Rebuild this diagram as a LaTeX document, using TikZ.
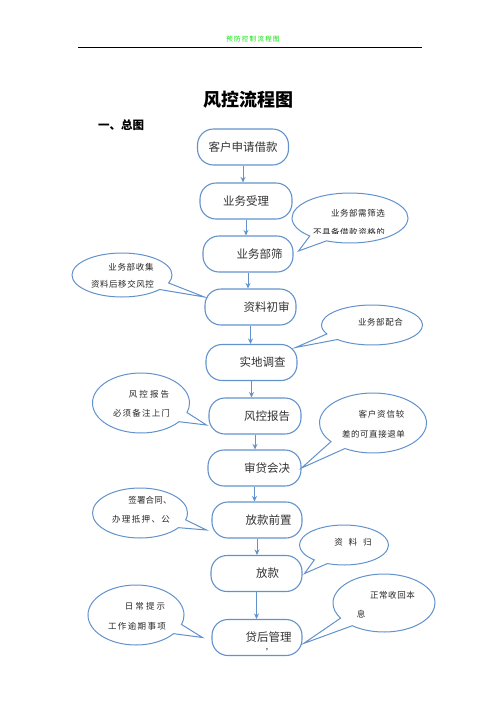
\documentclass[tikz,border=0pt]{standalone}
\usepackage{fontspec}
\newfontfamily\cjk{Noto Sans CJK SC}
\usetikzlibrary{calc,positioning,arrows.meta,shapes.callouts}
\definecolor{flowblue}{RGB}{98,146,204}
\definecolor{headgreen}{RGB}{0,225,0}
\tikzset{
  flow box/.style={
    draw=flowblue,
    line width=1.1pt,
    rounded corners=16pt,
    minimum width=91pt,
    minimum height=36pt,
    fill=white
  },
  flow label/.style={text=black!80, inner sep=0pt, font=\cjk\fontsize{11.5}{13}\selectfont},
  flow arrow/.style={draw=flowblue, line width=1pt, -{Stealth[length=5.5pt,width=5pt]}},
  note/.style={
    ellipse callout,
    draw=flowblue,
    line width=1pt,
    fill=white,
    inner sep=0pt,
    callout pointer arc=20
  },
  note label/.style={text=black!85, inner sep=0pt,
    font=\cjk\fontsize{8.5}{10}\selectfont\addfontfeature{LetterSpace=#1}},
  note label/.default=6
}

\begin{document}
\begin{tikzpicture}[x=1pt,y=-1pt]
  \useasboundingbox (0,0) rectangle (496,702);

  \node (page_head) [text=headgreen, font=\cjk\fontsize{6.5}{7}\selectfont\addfontfeature{LetterSpace=20}] at (253,39) {预防控制流程图};
  \draw[line width=0.8pt] (78,47) -- (422,47);

  \node (title) [font=\cjk\bfseries\fontsize{18}{20}\selectfont] at (248,100) {风控流程图};
  \node (section) [anchor=west, inner sep=0pt, font=\cjk\bfseries\fontsize{11.5}{13}\selectfont] at (98,125) {一、总图};

  % main flow
  \node (apply_box) [flow box] at (243,147) {};
  \node (apply_label) [flow label] at (apply_box) {客户申请借款};

  \node (accept_box) [flow box, minimum width=92pt] at (246,201) {};
  \node (accept_label) [flow label] at (accept_box) {业务受理};

  \node (screen_box) [flow box, minimum width=90pt] at (248,254) {};
  \node (screen_label) [flow label] at ([xshift=11.5pt]screen_box.center) {业务部筛};

  \node (review_box) [flow box] at (250.5,307) {};
  \node (review_label) [flow label] at ([xshift=16pt]review_box.center) {资料初审};

  \node (survey_box) [flow box] at (251.5,362.5) {};
  \node (survey_label) [flow label] at ([xshift=11pt]survey_box.center) {实地调查};

  \node (report_box) [flow box, minimum width=92pt] at (255,416) {};
  \node (report_label) [flow label] at ([xshift=12pt]report_box.center) {风控报告};

  \node (council_box) [flow box, minimum width=93pt] at (254.5,468) {};
  \node (council_label) [flow label] at ([xshift=12.5pt]council_box.center) {审贷会决};

  \node (prepay_box) [flow box, minimum width=90pt] at (257,520) {};
  \node (prepay_label) [flow label] at ([xshift=11.5pt]prepay_box.center) {放款前置};

  \node (payout_box) [flow box] at (256.5,573.5) {};
  \node (payout_label) [flow label] at ([xshift=11pt]payout_box.center) {放款};

  \node (after_box) [flow box, minimum width=90pt] at (257,637.5) {};
  \node (after_label) [flow label] at ([xshift=11.5pt]after_box.center) {贷后管理};
  \node (after_comma) [inner sep=0pt, font=\cjk\fontsize{8}{9}\selectfont] at (267,650) {,};

  \foreach \from/\to in {apply/accept,accept/screen,screen/review,review/survey,%
    survey/report,report/council,council/prepay,prepay/payout,payout/after}
    \draw[flow arrow] (\from_box.south) -- (\from_box.south |- \to_box.north);

  % notes
  \node (screen_note) [note, minimum width=116pt, minimum height=50pt,
    callout absolute pointer={([xshift=5pt,yshift=3pt]screen_box.east)}] at (350,218) {};
  \node (screen_note_a) [note label] at (358,213) {业务部需筛选};
  \begin{scope}
    \clip (300,222) rectangle (400,233);
    \node (screen_note_b) [note label] at (349,232) {不具备借款资格的};
  \end{scope}

  \node (collect_note) [note, minimum width=100pt, minimum height=44pt,
    callout absolute pointer={([yshift=10pt]review_box.west)}] at (122,275) {};
  \node (collect_note_a) [note label=8] at (131,267) {业务部收集};
  \begin{scope}
    \clip (85,278) rectangle (165,287.5);
    \node (collect_note_b) [note label] at (122.5,284) {资料后移交风控};
  \end{scope}

  \node (assist_note) [note, minimum width=101pt, minimum height=40pt,
    callout absolute pointer={([xshift=-2pt,yshift=15pt]survey_box.east)}] at (372,325) {};
  \node (assist_note_a) [note label] at (380.5,322) {业务部配合};

  \node (visit_note) [note, minimum width=97pt, minimum height=60pt,
    callout absolute pointer={([xshift=-2pt,yshift=-9pt]report_box.west)}] at (141,403) {};
  \node (visit_note_a) [note label=24] at (149,394) {风控报告};
  \node (visit_note_b) [note label=14] at (141.5,413) {必须备注上门};

  \node (credit_note) [note, minimum width=107pt, minimum height=60pt,
    callout absolute pointer={(council_box.east)}] at (373,423) {};
  \node (credit_note_a) [note label=10] at (381.5,414) {客户资信较};
  \node (credit_note_b) [note label] at (373.5,434) {差的可直接退单};

  \node (sign_note) [note, minimum width=95pt, minimum height=50pt,
    callout absolute pointer={([xshift=-5pt,yshift=-10pt]prepay_box.west)}] at (140,513) {};
  \node (sign_note_a) [note label=2] at (150,500) {签署合同、};
  \node (sign_note_b) [note label=16] at (141,519) {办理抵押、公};

  \node (file_note) [note, minimum width=89pt, minimum height=40pt,
    callout absolute pointer={([xshift=2pt]payout_box.east)}] at (344,545) {};
  \node (file_note_a) [note label=70] at (353,542) {资料归};

  \node (repay_note) [note, minimum width=102pt, minimum height=58pt,
    callout absolute pointer={([xshift=1pt,yshift=-6pt]after_box.east)}] at (384,603) {};
  \node (repay_note_a) [note label] at (392.5,595) {正常收回本};
  \node (repay_note_b) [note label] at (361,614) {息};

  \node (remind_note) [note, minimum width=96pt, minimum height=60pt,
    callout absolute pointer={([xshift=-9pt]after_box.west)}] at (136,615) {};
  \node (remind_note_a) [note label=24] at (145,606) {日常提示};
  \node (remind_note_b) [note label=16] at (137,626) {工作逾期事项};
\end{tikzpicture}
\end{document}
